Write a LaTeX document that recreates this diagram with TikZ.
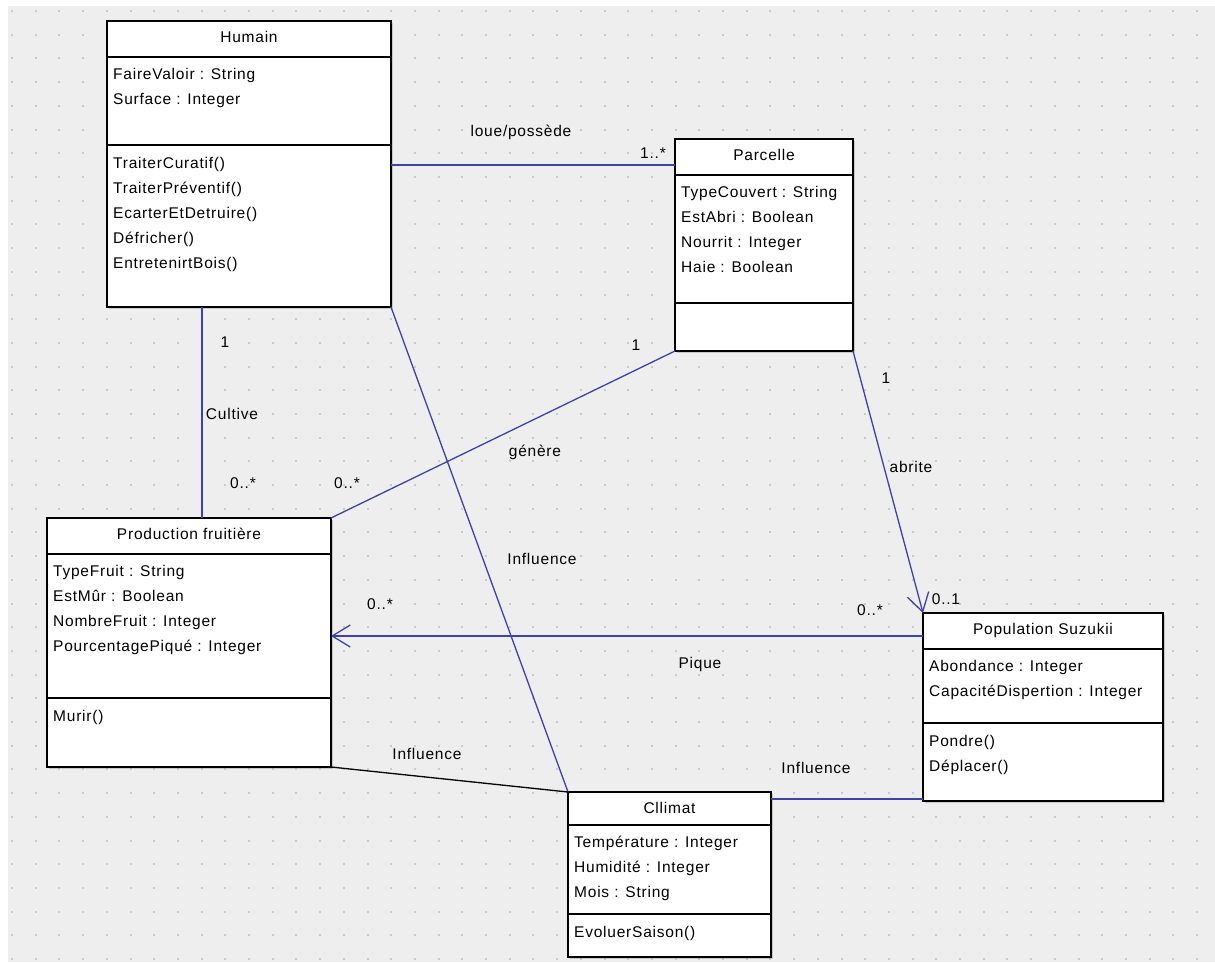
\documentclass[tikz,border=0pt]{standalone}
\usepackage{fontspec}
\setmainfont{Liberation Sans}[LetterSpace=5]
\usetikzlibrary{arrows.meta, calc, shadows}

\definecolor{assocblue}{RGB}{64,64,170}
\definecolor{canvasgray}{RGB}{238,238,238}
\definecolor{dotgray}{RGB}{202,202,202}

% #1 name, #2 corner, #3 width, #4 height, #5 title line, #6 attribute line,
% #7 title, #8 attributes, #9 methods
\newcommand{\umlclass}[9]{%
  \node[classbox, minimum width=#3, minimum height=#4] (#1) at #2 {};
  \draw[classline] ($(#1.north west)+(0,#5)$) -- ($(#1.north east)+(0,#5)$);
  \draw[classline] ($(#1.north west)+(0,#6)$) -- ($(#1.north east)+(0,#6)$);
  \node[classname] (#1-name) at ($(#1.north)+(0,21.5)$) {#7};
  \foreach \m [count=\i] in {#8}
    \node[member] (#1-a\i) at ($(#1.north west)+(6,#5+22+25*\i-25)$) {\m};
  \foreach \m [count=\i] in {#9}
    \node[member] (#1-m\i) at ($(#1.north west)+(6,#6+23+25*\i-25)$) {\m};
}

\begin{document}
\begin{tikzpicture}[
    x=1pt, y=-1pt,
    every node/.style={font=\fontsize{15.5}{18}\selectfont},
    classbox/.style={draw, line width=1.4pt, fill=white, anchor=north west,
      inner sep=0pt, outer sep=0pt,
      drop shadow={shadow xshift=1.5pt, shadow yshift=-1.5pt, opacity=0.35}},
    classline/.style={line width=1.2pt},
    classname/.style={anchor=base, inner sep=0pt},
    member/.style={anchor=base west, inner sep=0pt},
    rolelabel/.style={anchor=base, inner sep=0pt},
    assoc/.style={draw=assocblue, line width=1.3pt},
    navig/.style={assoc, -{Straight Barb[length=18pt, width=22pt]}}
]
    \useasboundingbox (0,0) rectangle (1215,962);
    \fill[white] (0,0) rectangle (1215,962);
    \fill[canvasgray] (8,6) rectangle (1215,962);
    \foreach \gx in {0,...,50}
      \foreach \gy in {0,...,40}
        \fill[dotgray] (11+23.7*\gx, 10+23.7*\gy) rectangle ++(2,2);

    % classes
    \umlclass{humain}{(107,21)}{284}{286}{36}{124}{Humain}
      {FaireValoir : String, Surface : Integer}
      {TraiterCuratif(), TraiterPréventif(), EcarterEtDetruire(), Défricher(), EntretenirtBois()}
    \umlclass{parcelle}{(675,139)}{178}{212}{36}{164}{Parcelle}
      {TypeCouvert : String, EstAbri : Boolean, Nourrit : Integer, Haie : Boolean}
      {}
    \umlclass{production}{(47,518)}{284}{249}{36}{180}{Production fruitière}
      {TypeFruit : String, EstMûr : Boolean, NombreFruit : Integer, PourcentagePiqué : Integer}
      {Murir()}
    \umlclass{population}{(923,613)}{240}{188}{36}{110}{Population Suzukii}
      {Abondance : Integer, CapacitéDispertion : Integer}
      {Pondre(), Déplacer()}
    \umlclass{climat}{(568,792)}{203}{165}{33}{122}{Cllimat}
      {Température : Integer, Humidité : Integer, Mois : String}
      {EvoluerSaison()}

    % associations
    \coordinate (loue) at ($(parcelle.north west)+(0,26)$);
    \draw[assoc] (humain.east |- loue) -- (loue);
    \coordinate (cultive) at ($(humain.south west)+(95,0)$);
    \draw[assoc] (cultive) -- (cultive |- production.north);
    \draw[assoc] (parcelle.south west) -- (production.north east);
    \draw[assoc] (humain.south east) -- (climat.north west);
    \draw[navig] (parcelle.south east) -- (population.north west);
    \coordinate (pique) at ($(population.north west)+(0,23)$);
    \draw[navig] (pique) -- (pique -| production.east);
    \draw[line width=1.3pt] (production.south east) -- (climat.north west);
    \coordinate (meteo) at ($(climat.north east)+(0,7)$);
    \draw[assoc] (meteo) -- (meteo -| population.west);

    % labels and multiplicities
    \node[rolelabel] (l-loue) at (521,136) {loue/possède};
    \node[rolelabel] (m-loue) at (653,158) {1..*};
    \node[rolelabel] (m-cult-h) at (225,347) {1};
    \node[rolelabel] (l-cult) at (232,419) {Cultive};
    \node[rolelabel] (m-cult-f) at (243,488) {0..*};
    \node[rolelabel] (m-gen-p) at (636,350) {1};
    \node[rolelabel] (l-gen) at (535,456) {génère};
    \node[rolelabel] (m-gen-f) at (347,488) {0..*};
    \node[rolelabel] (l-infl-h) at (542,564) {Influence};
    \node[rolelabel] (m-abr-p) at (886,383) {1};
    \node[rolelabel] (l-abr) at (911,472) {abrite};
    \node[rolelabel] (m-abr-s) at (946,604) {0..1};
    \node[rolelabel] (m-piq-f) at (380,609) {0..*};
    \node[rolelabel] (m-piq-s) at (870,615) {0..*};
    \node[rolelabel] (l-piq) at (700,668) {Pique};
    \node[rolelabel] (l-infl-f) at (427,759) {Influence};
    \node[rolelabel] (l-infl-s) at (816,773) {Influence};
\end{tikzpicture}
\end{document}
